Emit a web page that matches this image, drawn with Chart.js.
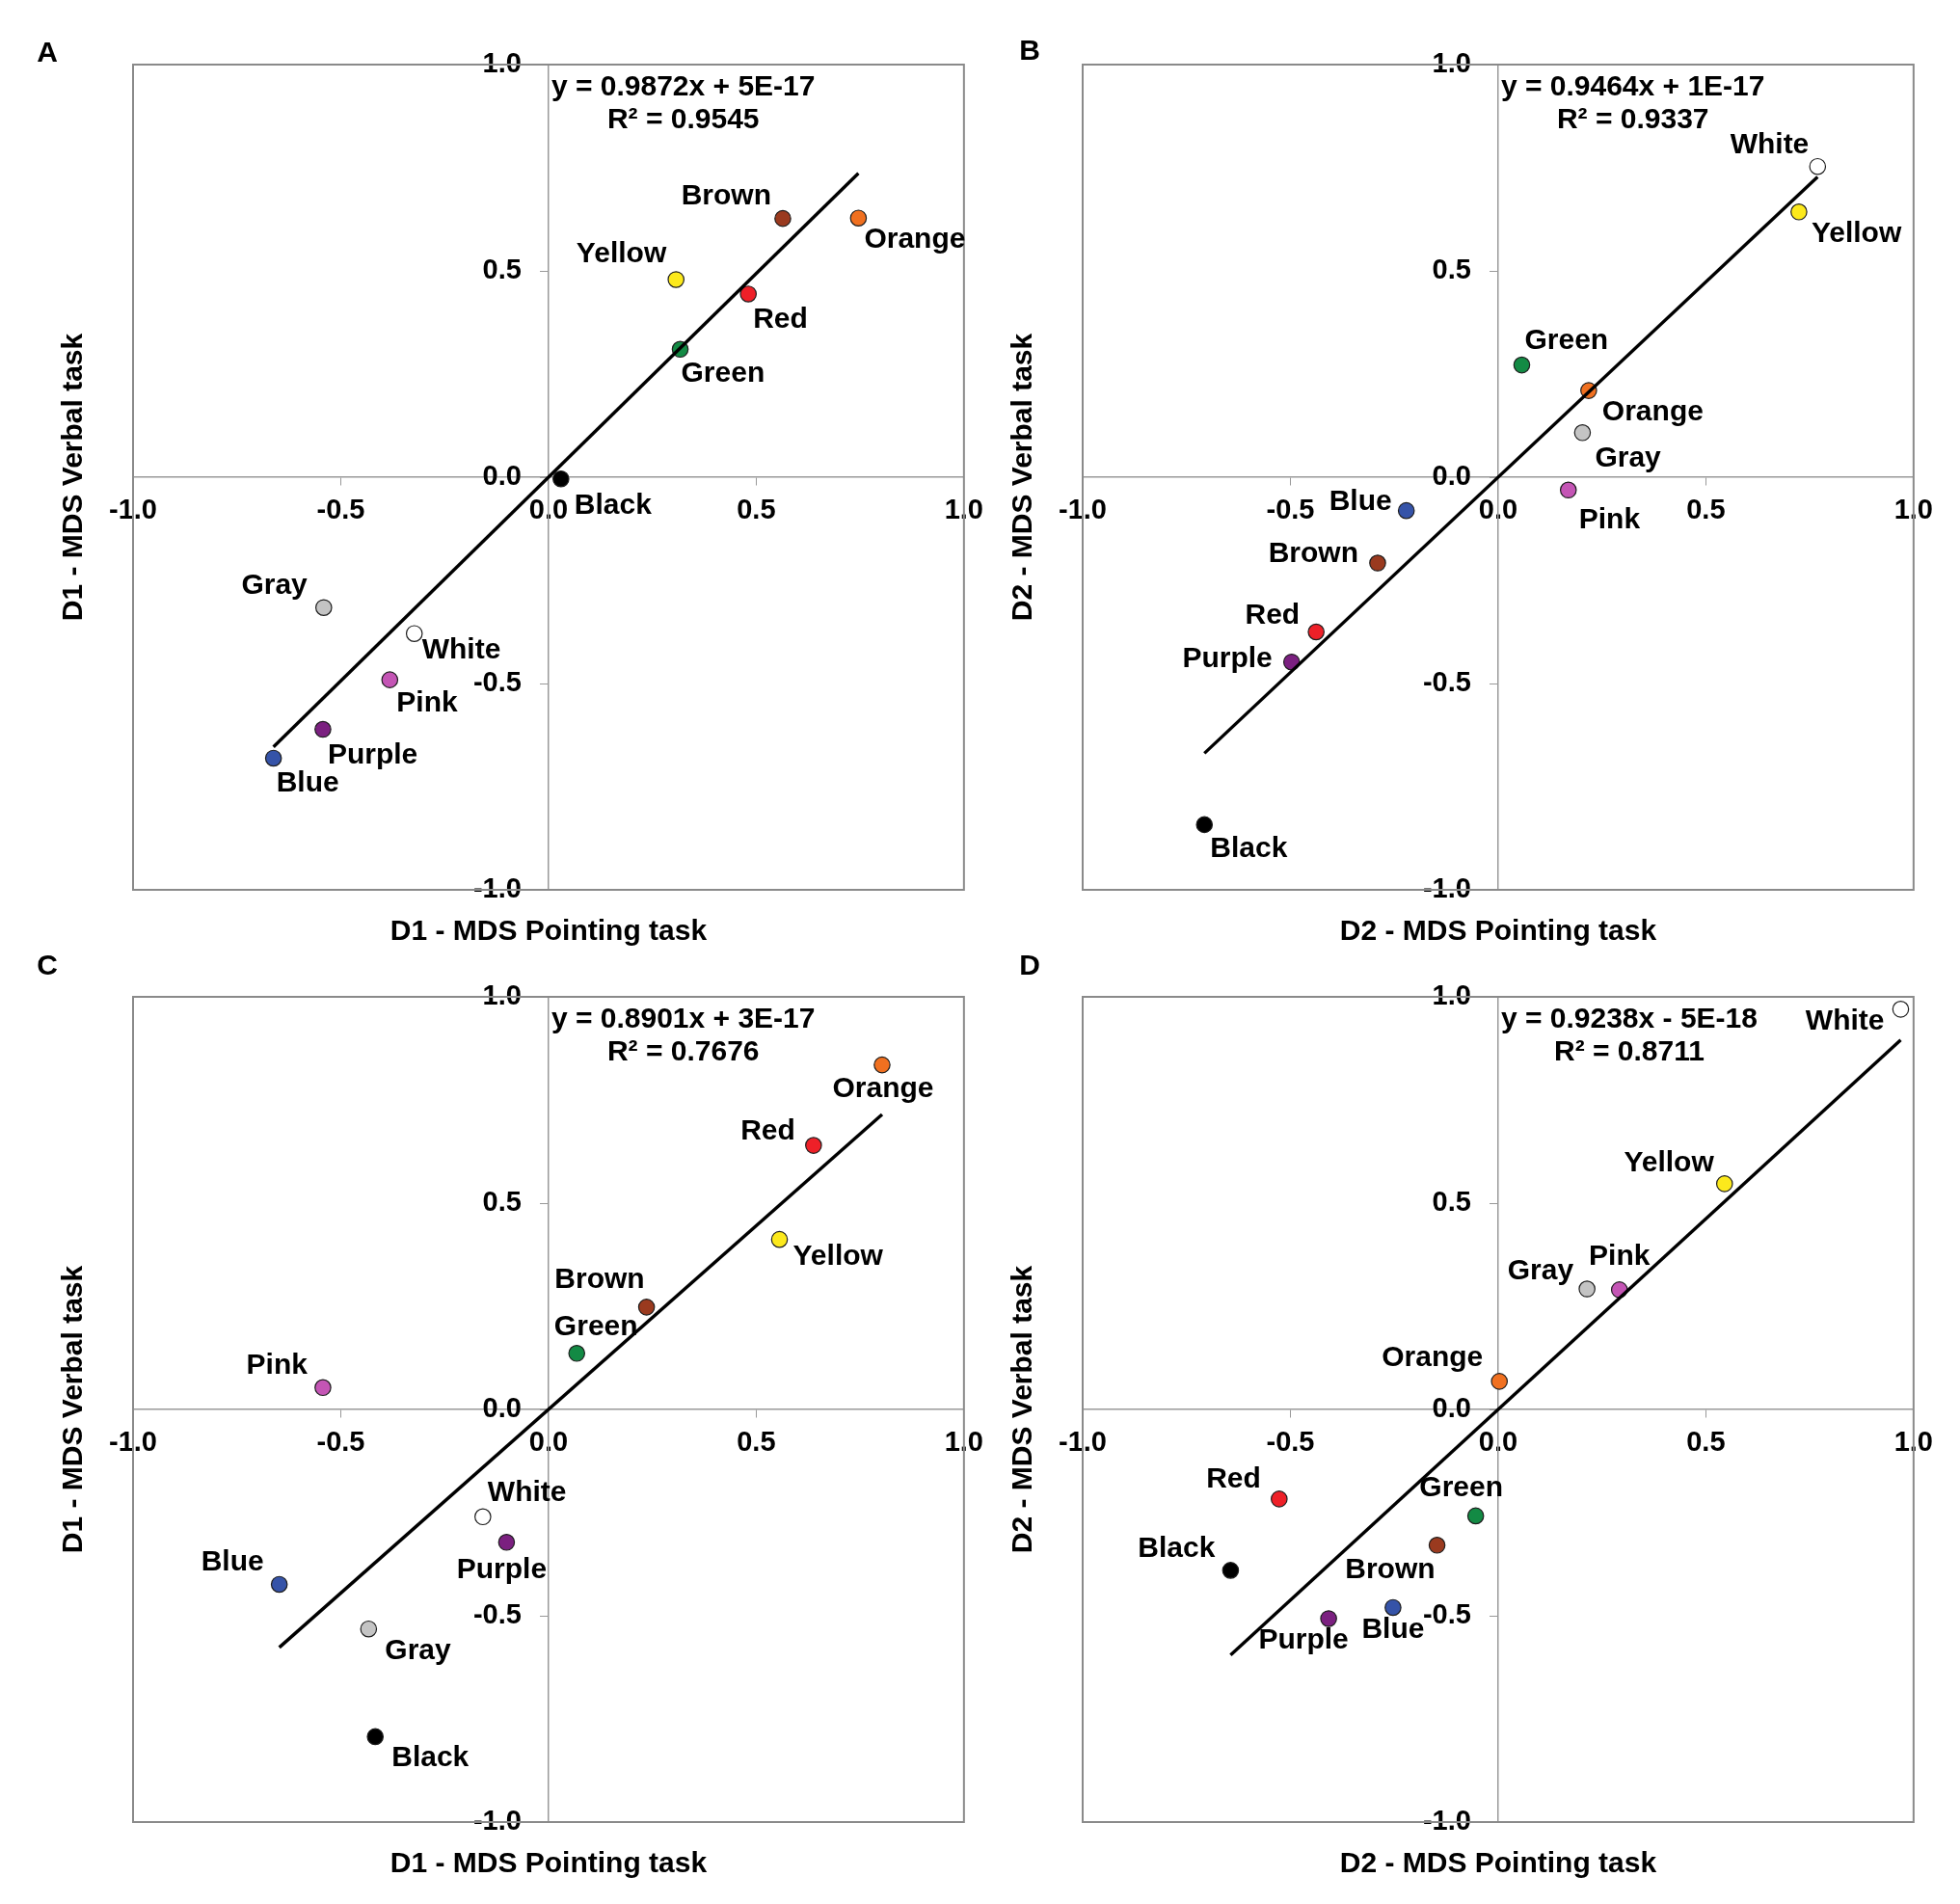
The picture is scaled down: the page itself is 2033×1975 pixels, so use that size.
<!DOCTYPE html>
<html>
<head>
<meta charset="utf-8">
<script src="https://cdn.jsdelivr.net/npm/chart.js@4.4.1/dist/chart.umd.min.js"></script>
<style>
html, body { margin: 0; padding: 0; background: #fff; }
#wrap { position: relative; width: 2033px; height: 1975px; overflow: hidden; background: #fff; }
#wrap canvas { position: absolute; }
.letter { position: absolute; font: bold 30px "Liberation Sans", Arial, sans-serif; color: #000; line-height: 30px; transform: translate(-50%, -50%); }
</style>
</head>
<body>
<div id="wrap"></div>
<script>
// ---------------- DATA ----------------
const colorNames = ['Black', 'Gray', 'White', 'Pink', 'Purple', 'Blue', 'Brown', 'Red', 'Green', 'Yellow', 'Orange'];

// Panel A: D1
const aPointing = [0.030, -0.541, -0.323, -0.382, -0.543, -0.662, 0.564, 0.481, 0.317, 0.307, 0.746];
const aVerbal   = [-0.004, -0.316, -0.379, -0.491, -0.611, -0.681, 0.627, 0.444, 0.310, 0.479, 0.628];
// Panel B: D2
const bPointing = [-0.707, 0.203, 0.769, 0.169, -0.497, -0.221, -0.290, -0.438, 0.057, 0.724, 0.218];
const bVerbal   = [-0.842, 0.108, 0.753, -0.031, -0.448, -0.081, -0.208, -0.375, 0.272, 0.643, 0.210];
// Panel C: D1
const cPointing = [-0.417, -0.433, -0.158, -0.543, -0.101, -0.648, 0.236, 0.638, 0.068, 0.556, 0.803];
const cVerbal   = [-0.793, -0.532, -0.260, 0.053, -0.322, -0.424, 0.248, 0.640, 0.136, 0.412, 0.835];
// Panel D: D2
const dPointing = [-0.644, 0.214, 0.969, 0.292, -0.408, -0.253, -0.147, -0.527, -0.054, 0.545, 0.003];
const dVerbal   = [-0.390, 0.292, 0.970, 0.290, -0.507, -0.480, -0.329, -0.217, -0.258, 0.547, 0.068];

const slopes = [0.9872, 0.9464, 0.8901, 0.9238];
const intercepts = [5e-17, 1e-17, 3e-17, -5e-18];
const equationTexts = ['y = 0.9872x + 5E-17', 'y = 0.9464x + 1E-17', 'y = 0.8901x + 3E-17', 'y = 0.9238x - 5E-18'];
const r2Texts = ['R\u00B2 = 0.9545', 'R\u00B2 = 0.9337', 'R\u00B2 = 0.7676', 'R\u00B2 = 0.8711'];

const panelLetters = ['A', 'B', 'C', 'D'];
const xTitles = ['D1 - MDS Pointing task', 'D2 - MDS Pointing task', 'D1 - MDS Pointing task', 'D2 - MDS Pointing task'];
const yTitles = ['D1 - MDS Verbal task', 'D2 - MDS Verbal task', 'D1 - MDS Verbal task', 'D2 - MDS Verbal task'];

const tickValues = [-1, -0.5, 0, 0.5, 1];
const tickLabels = ['-1.0', '-0.5', '0.0', '0.5', '1.0'];

// ---------------- STYLE ----------------
const pointColors = {
  Black: '#000000', Gray: '#c4c4c4', White: '#ffffff', Pink: '#c455b5', Purple: '#7b2080',
  Blue: '#3553a8', Brown: '#9a3a1f', Red: '#ee2028', Green: '#138a44', Yellow: '#fce91c', Orange: '#f07020'
};
const FONT = '"Liberation Sans", Arial, sans-serif';
const Y_LABEL_GAP = 28; // px between y axis line and right edge of its tick labels

// label placement: [textAlign, dx, dy] in pixels relative to the point
const labelPlacement = [
  { Black: ['left', 14, 28], Gray: ['right', -17, -23], White: ['left', 8, 18], Pink: ['left', 7, 25],
    Purple: ['left', 5, 27], Blue: ['left', 3, 26], Brown: ['right', -12, -23], Red: ['left', 5, 27],
    Green: ['left', 1, 25], Yellow: ['right', -10, -26], Orange: ['left', 6, 23] },
  { Black: ['left', 6, 25], Gray: ['left', 13, 27], White: ['right', -9, -22], Pink: ['left', 11, 31],
    Purple: ['right', -20, -3], Blue: ['right', -15, -9], Brown: ['right', -20, -9], Red: ['right', -17, -17],
    Green: ['left', 3, -25], Yellow: ['left', 13, 23], Orange: ['left', 14, 23] },
  { Black: ['left', 17, 22], Gray: ['left', 17, 23], White: ['left', 5, -25], Pink: ['right', -16, -23],
    Purple: ['center', -5, 29], Blue: ['right', -16, -23], Brown: ['right', -2, -28], Red: ['right', -19, -14],
    Green: ['center', 20, -27], Yellow: ['left', 14, 18], Orange: ['center', 1, 25] },
  { Black: ['right', -16, -22], Gray: ['right', -14, -18], White: ['right', -17, 13], Pink: ['center', 0, -34],
    Purple: ['center', -26, 23], Blue: ['center', 0, 23], Brown: ['right', -2, 26], Red: ['right', -19, -20],
    Green: ['center', -15, -29], Yellow: ['right', -11, -21], Orange: ['right', -17, -24] }
];

const panelBoxes = [
  { left: 0, top: 0, letterX: 49, letterY: 54 },
  { left: 985, top: 0, letterX: 1068, letterY: 52 },
  { left: 0, top: 967, letterX: 49, letterY: 1001 },
  { left: 985, top: 967, letterX: 1068, letterY: 1001 }
];

const pointingSets = [aPointing, bPointing, cPointing, dPointing];
const verbalSets = [aVerbal, bVerbal, cVerbal, dVerbal];

Chart.defaults.font.family = FONT;
Chart.defaults.color = '#000';

// shifts the centred y-axis tick labels left of the axis line (Chart.js puts them flush on it)
const yLabelGapPlugin = {
  id: 'yLabelGap',
  beforeDraw(chart) {
    const s = chart.scales.y;
    const items = s.getLabelItems(chart.chartArea);
    if (!items._shifted) {
      items.forEach(it => { it.options.translation[0] -= Y_LABEL_GAP; });
      items._shifted = true;
    }
  }
};

const overlayPlugin = {
  id: 'overlay',
  beforeDatasetsDraw(chart) {
    const { ctx, chartArea: ca } = chart;
    ctx.save();
    ctx.strokeStyle = '#8a8a8a';
    ctx.lineWidth = 2;
    ctx.strokeRect(ca.left, ca.top, ca.right - ca.left, ca.bottom - ca.top);
    ctx.restore();
  },
  afterDatasetsDraw(chart, args, opts) {
    const { ctx, chartArea: ca, scales } = chart;
    const xs = scales.x, ys = scales.y;
    const p = opts.panel;
    ctx.save();
    ctx.fillStyle = '#000';
    ctx.textBaseline = 'middle';
    ctx.font = 'bold 30px ' + FONT;
    const px = pointingSets[p], vy = verbalSets[p];
    colorNames.forEach((name, i) => {
      const [al, dx, dy] = labelPlacement[p][name];
      ctx.textAlign = al;
      ctx.fillText(name, xs.getPixelForValue(px[i]) + dx, ys.getPixelForValue(vy[i]) + dy);
    });
    // equation
    const eq = equationTexts[p];
    const w = ctx.measureText(eq).width;
    const left = xs.getPixelForValue(0) + 3;
    const cx = left + w / 2;
    ctx.textAlign = 'center';
    ctx.fillText(eq, cx, ca.top + 24);
    ctx.fillText(r2Texts[p], cx, ca.top + 58);
    ctx.restore();
  }
};

const wrap = document.getElementById('wrap');

for (let p = 0; p < 4; p++) {
  const box = panelBoxes[p];
  const cv = document.createElement('canvas');
  cv.width = 1030; cv.height = 1000;
  cv.style.left = box.left + 'px'; cv.style.top = box.top + 'px';
  cv.style.width = '1030px'; cv.style.height = '1000px';
  wrap.appendChild(cv);

  const letter = document.createElement('div');
  letter.className = 'letter';
  letter.textContent = panelLetters[p];
  letter.style.left = box.letterX + 'px';
  letter.style.top = box.letterY + 'px';
  wrap.appendChild(letter);

  const xsArr = pointingSets[p], ysArr = verbalSets[p];
  const points = xsArr.map((v, i) => ({ x: v, y: ysArr[i] }));
  const xmin = Math.min(...xsArr), xmax = Math.max(...xsArr);
  const trend = [
    { x: xmin, y: slopes[p] * xmin + intercepts[p] },
    { x: xmax, y: slopes[p] * xmax + intercepts[p] }
  ];

  const tickFont = { family: FONT, size: 29, weight: 'bold' };
  const titleFont = { family: FONT, size: 30, weight: 'bold', lineHeight: 1.2 };

  new Chart(cv, {
    type: 'scatter',
    data: {
      datasets: [
        {
          label: 'trend', data: trend, showLine: true, borderColor: '#000', borderWidth: 3.4,
          pointRadius: 0, fill: false, order: 0
        },
        {
          label: 'colors', data: points, showLine: false, order: 1,
          pointRadius: 8.2, pointHoverRadius: 8.2,
          pointBackgroundColor: colorNames.map(n => pointColors[n]),
          pointBorderColor: '#1e1e1e', pointBorderWidth: 1.2
        }
      ]
    },
    options: {
      responsive: false,
      animation: false,
      devicePixelRatio: 1,
      layout: { padding: { left: 10, right: 30, top: 67, bottom: 10 } },
      scales: {
        x: {
          type: 'linear', min: -1, max: 1, position: { y: 0 },
          ticks: {
            stepSize: 0.5, autoSkip: false, maxRotation: 0, padding: 10, font: tickFont, color: '#000',
            callback: v => tickLabels[tickValues.indexOf(Math.round(v * 2) / 2)]
          },
          grid: { drawOnChartArea: false, drawTicks: true, tickLength: 8, color: '#999', lineWidth: 1 },
          border: { display: true, color: '#9a9a9a', width: 1.5 }
        },
        y: {
          type: 'linear', min: -1, max: 1, position: { x: 0 },
          ticks: {
            stepSize: 0.5, autoSkip: false, padding: 20, font: tickFont, color: '#000',
            callback: v => tickLabels[tickValues.indexOf(Math.round(v * 2) / 2)]
          },
          grid: { drawOnChartArea: false, drawTicks: true, tickLength: 8, color: '#999', lineWidth: 1 },
          border: { display: true, color: '#9a9a9a', width: 1.5 }
        }
      },
      plugins: {
        legend: { display: false },
        tooltip: { enabled: false },
        title: {
          display: true, text: yTitles[p], position: 'left', fullSize: false, color: '#000',
          font: titleFont, padding: { top: 49, bottom: 43 }
        },
        subtitle: {
          display: true, text: xTitles[p], position: 'bottom', fullSize: false, color: '#000',
          font: titleFont, padding: { top: 26, bottom: 5 }
        },
        overlay: { panel: p }
      }
    },
    plugins: [yLabelGapPlugin, overlayPlugin]
  });
}
</script>
</body>
</html>
